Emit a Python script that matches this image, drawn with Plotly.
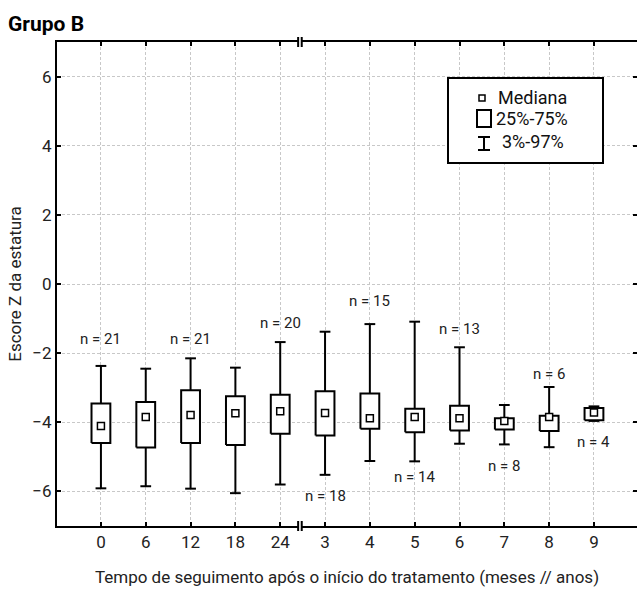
import plotly.graph_objects as go

# ---------------- data ----------------
categories = ["0", "6", "12", "18", "24", "3", "4", "5", "6", "7", "8", "9"]
p3 = [-5.91, -5.85, -5.92, -6.05, -5.80, -5.52, -5.12, -5.13, -4.62, -4.64, -4.72, -3.96]
q1 = [-4.60, -4.73, -4.60, -4.66, -4.33, -4.38, -4.19, -4.29, -4.24, -4.21, -4.25, -3.94]
median = [-4.11, -3.85, -3.79, -3.74, -3.68, -3.73, -3.88, -3.85, -3.88, -3.96, -3.85, -3.72]
q3 = [-3.46, -3.41, -3.07, -3.25, -3.20, -3.10, -3.17, -3.61, -3.52, -3.88, -3.81, -3.59]
p97 = [-2.37, -2.45, -2.15, -2.42, -1.68, -1.38, -1.16, -1.09, -1.83, -3.50, -2.98, -3.54]
n_counts = [21, None, 21, None, 20, 18, 15, 14, 13, 8, 6, 4]
y_ticks = [-6, -4, -2, 0, 2, 4, 6]

# ---------------- styling / placement ----------------
n_label_y = [-1.6, None, -1.6, None, -1.12, -6.12, -0.48, -5.57, -1.3, -5.25, -2.59, -4.58]
FONT = "Roboto, Liberation Sans, sans-serif"
W, H = 637, 590
ML, MR, MT, MB = 57, 0, 42, 64
PW, PH = W - ML - MR, H - MT - MB
BOX_W = 0.21
CAP_W = 0.12
LW = 2
GRID = dict(showgrid=True, gridcolor="#c8c8c8", griddash="3px,2px", gridwidth=1)

x = list(range(len(categories)))

def px_x(p):
    return (p - ML) / PW

def px_y(p):
    return (H - MB - p) / PH

fig = go.Figure()

# whiskers
wx, wy = [], []
for i in x:
    wx += [i, i, None, i, i, None]
    wy += [q3[i], p97[i], None, q1[i], p3[i], None]
    wx += [i - CAP_W, i + CAP_W, None, i - CAP_W, i + CAP_W, None]
    wy += [p97[i], p97[i], None, p3[i], p3[i], None]
fig.add_trace(go.Scatter(x=wx, y=wy, mode="lines", line=dict(color="black", width=LW),
                         hoverinfo="skip", showlegend=False))

# boxes
bx, by = [], []
for i in x:
    bx += [i - BOX_W, i + BOX_W, i + BOX_W, i - BOX_W, i - BOX_W, None]
    by += [q1[i], q1[i], q3[i], q3[i], q1[i], None]
fig.add_trace(go.Scatter(x=bx, y=by, mode="lines", fill="toself", fillcolor="white",
                         line=dict(color="black", width=LW), hoverinfo="skip", showlegend=False))

# medians
fig.add_trace(go.Scatter(x=x, y=median, mode="markers",
                         marker=dict(symbol="square", size=7, color="white",
                                     line=dict(color="black", width=1.5)),
                         showlegend=False))

# right-side ticks (no line)
fig.add_trace(go.Scatter(x=[None], y=[None], yaxis="y2", showlegend=False, hoverinfo="skip"))

annotations = []
for i in x:
    if n_counts[i] is not None:
        annotations.append(dict(x=i, y=n_label_y[i], xref="x", yref="y", text=f"n = {n_counts[i]}",
                                showarrow=False, font=dict(family=FONT, size=15, color="#222")))

# legend (drawn manually)
shapes = []
shapes.append(dict(type="rect", xref="paper", yref="paper", x0=px_x(448), x1=px_x(603),
                   y0=px_y(163), y1=px_y(78), line=dict(color="black", width=2), fillcolor="white"))
shapes.append(dict(type="rect", xref="paper", yref="paper", x0=px_x(479), x1=px_x(485),
                   y0=px_y(101), y1=px_y(95), line=dict(color="black", width=1.5), fillcolor="white"))
shapes.append(dict(type="rect", xref="paper", yref="paper", x0=px_x(477), x1=px_x(491),
                   y0=px_y(127), y1=px_y(110), line=dict(color="black", width=2), fillcolor="white"))
for (xa, ya, xb, yb) in [(484, 137, 484, 150), (478, 137, 490, 137), (478, 150, 490, 150)]:
    shapes.append(dict(type="line", xref="paper", yref="paper", x0=px_x(xa), x1=px_x(xb),
                       y0=px_y(ya), y1=px_y(yb), line=dict(color="black", width=2)))
for txt, tx, ty in [("Mediana", 496, 97), ("25%-75%", 494, 119), ("3%-97%", 500, 141)]:
    annotations.append(dict(x=px_x(tx), y=px_y(ty), xref="paper", yref="paper", text=txt,
                            showarrow=False, xanchor="left", yanchor="middle",
                            font=dict(family=FONT, size=18, color="#111")))

# axis break marks
brk = 4.44
for yp in (0, 1):
    shapes.append(dict(type="rect", xref="x", yref="paper", x0=brk - 0.04, x1=brk + 0.04,
                       y0=yp - 2 / PH, y1=yp + 2 / PH, line=dict(width=0), fillcolor="white"))
    for dx in (-0.04, 0.04):
        shapes.append(dict(type="line", xref="x", yref="paper", x0=brk + dx, x1=brk + dx,
                           y0=yp - 5 / PH, y1=yp + 5 / PH, line=dict(color="black", width=2)))

fig.update_layout(
    width=W, height=H,
    margin=dict(l=ML, r=MR, t=MT, b=MB, pad=0, autoexpand=False),
    plot_bgcolor="white", paper_bgcolor="white",
    font=dict(family=FONT, size=17, color="#222"),
    title=dict(text="<b>Grupo B</b>", x=8 / W, y=1 - 24 / H, xref="container", yref="container",
               xanchor="left", yanchor="middle", font=dict(family=FONT, size=21, color="black")),
    xaxis=dict(range=[-0.98, 11.96], tickmode="array", tickvals=x, ticktext=categories,
               showline=True, linecolor="black", linewidth=2, mirror="ticks",
               ticks="inside", ticklen=4, tickwidth=2, tickcolor="black",
               zeroline=False, tickfont=dict(size=17), automargin=False, **GRID,
               title=dict(text="Tempo de seguimento após o início do tratamento (meses // anos)",
                          font=dict(size=17), standoff=20)),
    yaxis=dict(range=[-7, 7], tickmode="array", tickvals=y_ticks,
               showline=True, linecolor="black", linewidth=2,
               ticks="inside", ticklen=4, tickwidth=2, tickcolor="black",
               zeroline=False, tickfont=dict(size=17), automargin=False, **GRID,
               title=dict(text="Escore Z da estatura", font=dict(size=17), standoff=6)),
    yaxis2=dict(range=[-7, 7], overlaying="y", side="right", tickmode="array",
                tickvals=y_ticks, showline=False, showgrid=False,
                ticks="inside", ticklen=4, tickwidth=2, tickcolor="black",
                showticklabels=False, zeroline=False, automargin=False),
    shapes=shapes, annotations=annotations,
)

fig.write_html("out.html", config={"displayModeBar": False},
               post_script="document.body.style.margin='0';")
